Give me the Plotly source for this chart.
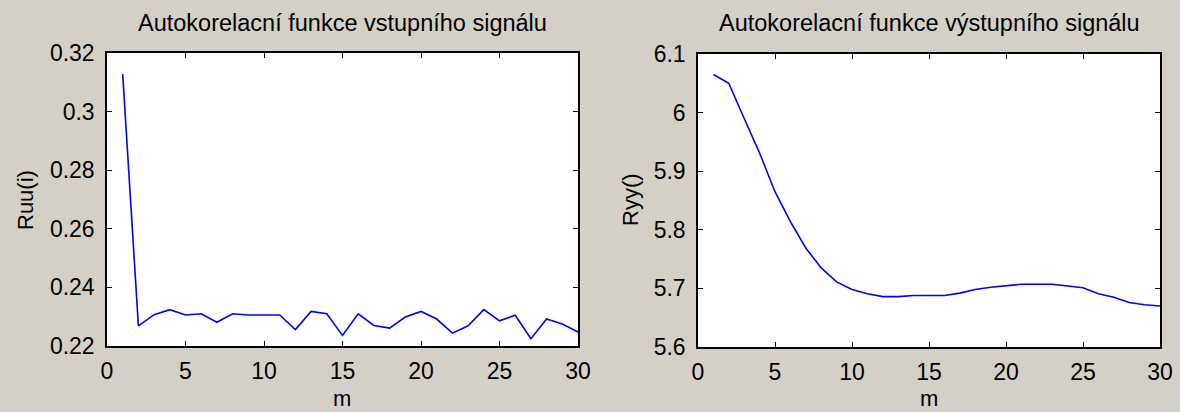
import plotly.graph_objects as go

# lag index
m = list(range(1, 31))

# autocorrelation of the input signal
ruu = [0.3128, 0.2269, 0.2307, 0.2324, 0.2306, 0.2310, 0.2281, 0.2310, 0.2306, 0.2306,
       0.2306, 0.2256, 0.2318, 0.2310, 0.2236, 0.2310, 0.2270, 0.2261, 0.2299, 0.2318,
       0.2292, 0.2244, 0.2269, 0.2324, 0.2286, 0.2305, 0.2225, 0.2292, 0.2275, 0.2248]

# autocorrelation of the output signal
ryy = [6.065, 6.050, 5.990, 5.931, 5.865, 5.814, 5.769, 5.735, 5.711, 5.698,
       5.691, 5.686, 5.686, 5.688, 5.688, 5.688, 5.692, 5.698, 5.702, 5.704,
       5.707, 5.707, 5.707, 5.704, 5.701, 5.691, 5.685, 5.676, 5.672, 5.670]

x_ticks = [0, 5, 10, 15, 20, 25, 30]
ruu_ticks = [0.22, 0.24, 0.26, 0.28, 0.30, 0.32]
ruu_tick_text = ["0.22", "0.24", "0.26", "0.28", "0.3", "0.32"]
ryy_ticks = [5.6, 5.7, 5.8, 5.9, 6.0, 6.1]
ryy_tick_text = ["5.6", "5.7", "5.8", "5.9", "6", "6.1"]

title_left = "Autokorelacní funkce vstupního signálu"
title_right = "Autokorelacní funkce výstupního signálu"

W, H = 1180, 412
FONT = "Liberation Sans, Arial, sans-serif"
BG = "#D4D0C8"


def px(x):
    return x / W


def py(y):
    return 1 - y / H


fig = go.Figure()
fig.add_trace(go.Scatter(x=m, y=ruu, mode="lines", line=dict(color="#0000FF", width=1.6),
                         xaxis="x", yaxis="y", showlegend=False))
fig.add_trace(go.Scatter(x=m, y=ryy, mode="lines", line=dict(color="#0000FF", width=1.6),
                         xaxis="x2", yaxis="y2", showlegend=False))

axis_common = dict(
    showline=True, linecolor="black", linewidth=1.5, mirror="ticks",
    ticks="inside", ticklen=5, tickwidth=1, tickcolor="black",
    showgrid=False, zeroline=False,
    tickfont=dict(family=FONT, size=23, color="black"),
)

fig.update_layout(
    width=W, height=H,
    margin=dict(l=0, r=0, t=0, b=0, autoexpand=False),
    paper_bgcolor=BG, plot_bgcolor="white",
    font=dict(family=FONT, color="black"),
    xaxis=dict(domain=[px(107), px(578)], range=[0, 30], tickvals=x_ticks,
               anchor="y", ticklabelstandoff=4, **axis_common),
    yaxis=dict(domain=[py(346), py(53)], range=[0.22, 0.32], tickvals=ruu_ticks,
               ticktext=ruu_tick_text, anchor="x", ticklabelstandoff=6, **axis_common),
    xaxis2=dict(domain=[px(698), px(1160)], range=[0, 30], tickvals=x_ticks,
                anchor="y2", ticklabelstandoff=4, **axis_common),
    yaxis2=dict(domain=[py(347), py(54)], range=[5.6, 6.1], tickvals=ryy_ticks,
                ticktext=ryy_tick_text, anchor="x2", ticklabelstandoff=6, **axis_common),
)

annotations = [
    dict(text=title_left, x=px(342), y=py(23), font=dict(size=23.5)),
    dict(text=title_right, x=px(929), y=py(23), font=dict(size=23.5)),
    dict(text="m", x=px(342), y=py(398), font=dict(size=22)),
    dict(text="m", x=px(929), y=py(398), font=dict(size=22)),
    dict(text="Ruu(i)", x=px(25), y=py(200), textangle=-90, font=dict(size=22)),
    dict(text="Ryy()", x=px(630), y=py(200), textangle=-90, font=dict(size=22)),
]
for a in annotations:
    a.update(xref="paper", yref="paper", showarrow=False, xanchor="center", yanchor="middle")
    a["font"].update(family=FONT, color="black")
fig.update_layout(annotations=annotations)

fig.write_html(
    "out.html",
    post_script="document.body.style.margin='0';document.body.style.overflow='hidden';",
)
